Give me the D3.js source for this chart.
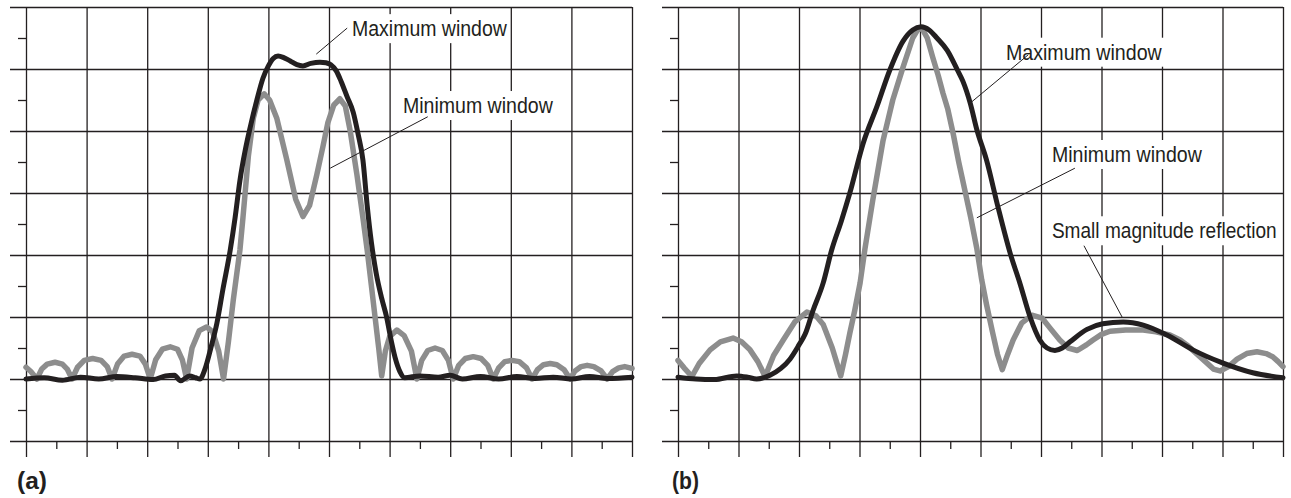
<!DOCTYPE html>
<html>
<head>
<meta charset="utf-8">
<script src="https://cdn.jsdelivr.net/npm/d3@7"></script>
<style>
  html, body { margin: 0; padding: 0; background: #ffffff; }
  svg { display: block; }
  text { font-family: "Liberation Sans Narrow", "Arial Narrow", "Liberation Sans", Arial, sans-serif; fill: #231f20; }
</style>
</head>
<body>
<svg id="chart" width="1291" height="498"></svg>
<script>
// ---------- data ----------
const panelLabels = ["(a)", "(b)"];
const xGridValues = [0, 1, 2, 3, 4, 5, 6, 7, 8, 9, 10];
const xMinorValues = [0.5, 1.5, 2.5, 3.5, 4.5, 5.5, 6.5, 7.5, 8.5, 9.5];
const yGridValues = [-1, 0, 1, 2, 3, 4, 5, 6];
const yMinorValues = [-0.5, 0.5, 1.5, 2.5, 3.5, 4.5, 5.5];

// Panel (a) – Maximum window (black)
const aMaxWindow = [
  [0, 0.0], [0.3, 0.02], [0.6, -0.02], [0.9, 0.03], [1.2, 0.0], [1.5, 0.04], [1.8, 0.02],
  [2.1, -0.01], [2.3, 0.05], [2.45, 0.06], [2.55, -0.03], [2.7, 0.05], [2.8, 0.02], [2.87, 0.0],
  [2.95, 0.15], [3.05, 0.5], [3.15, 0.9], [3.25, 1.45], [3.37, 2.08], [3.45, 2.6], [3.53, 3.2],
  [3.62, 3.7], [3.7, 4.06], [3.81, 4.5], [3.91, 4.85], [4.0, 5.05], [4.08, 5.17], [4.16, 5.21],
  [4.26, 5.18], [4.36, 5.13], [4.47, 5.07], [4.57, 5.05], [4.7, 5.09], [4.85, 5.11], [4.95, 5.1],
  [5.03, 5.07], [5.12, 4.97], [5.2, 4.8], [5.3, 4.55], [5.4, 4.3], [5.48, 3.95], [5.56, 3.53],
  [5.63, 2.8], [5.7, 2.2], [5.78, 1.7], [5.87, 1.3], [5.95, 1.0], [6.02, 0.65], [6.09, 0.35],
  [6.17, 0.12], [6.25, 0.02], [6.5, 0.05], [6.8, 0.03], [7.0, 0.06], [7.2, 0.0], [7.5, 0.04],
  [7.8, 0.0], [8.1, 0.04], [8.4, 0.01], [8.7, 0.03], [9.0, 0.0], [9.3, 0.04], [9.6, 0.01], [10, 0.03]
];

// Panel (a) – Minimum window (gray)
const aMinWindow = [
  [0, 0.19], [0.08, 0.12], [0.18, 0.0], [0.26, 0.16], [0.35, 0.24], [0.48, 0.27], [0.6, 0.24],
  [0.68, 0.16], [0.76, 0.0], [0.85, 0.19], [0.96, 0.3], [1.1, 0.33], [1.24, 0.3], [1.34, 0.2],
  [1.42, 0.0], [1.51, 0.24], [1.62, 0.37], [1.75, 0.4], [1.88, 0.37], [1.97, 0.24], [2.05, 0.0],
  [2.14, 0.31], [2.25, 0.48], [2.38, 0.52], [2.5, 0.48], [2.58, 0.31], [2.65, 0.0], [2.74, 0.5],
  [2.86, 0.78], [2.98, 0.84], [3.08, 0.76], [3.18, 0.45], [3.26, 0.0], [3.34, 0.6], [3.42, 1.27],
  [3.53, 2.08], [3.58, 2.6], [3.67, 3.6], [3.75, 4.2], [3.83, 4.5], [3.93, 4.6], [4.02, 4.5],
  [4.14, 4.2], [4.3, 3.55], [4.45, 2.9], [4.57, 2.62], [4.68, 2.8], [4.8, 3.3], [4.9, 3.75],
  [4.98, 4.13], [5.08, 4.42], [5.18, 4.52], [5.27, 4.4], [5.35, 4.0], [5.46, 3.3], [5.56, 2.6],
  [5.63, 2.08], [5.7, 1.5], [5.76, 1.0], [5.82, 0.5], [5.87, 0.05], [5.93, 0.45], [6.0, 0.68],
  [6.12, 0.79], [6.24, 0.7], [6.36, 0.45], [6.45, 0.0], [6.53, 0.3], [6.63, 0.46], [6.75, 0.5],
  [6.87, 0.46], [6.97, 0.3], [7.05, 0.0], [7.14, 0.22], [7.25, 0.33], [7.38, 0.36], [7.51, 0.33],
  [7.62, 0.22], [7.71, 0.0], [7.8, 0.18], [7.9, 0.28], [8.02, 0.3], [8.14, 0.28], [8.26, 0.18],
  [8.35, 0.0], [8.44, 0.15], [8.54, 0.23], [8.65, 0.25], [8.76, 0.23], [8.88, 0.15], [8.98, 0.0],
  [9.06, 0.13], [9.16, 0.2], [9.26, 0.22], [9.37, 0.2], [9.49, 0.13], [9.59, 0.0], [9.68, 0.12],
  [9.78, 0.18], [9.88, 0.2], [10, 0.17]
];

// Panel (b) – Maximum window (black)
const bMaxWindow = [
  [0, 0.03], [0.3, 0.0], [0.6, -0.01], [0.97, 0.05], [1.15, 0.03], [1.3, 0.0], [1.52, 0.06],
  [1.7, 0.17], [1.85, 0.32], [2.0, 0.55], [2.1, 0.72], [2.23, 1.1], [2.4, 1.55], [2.54, 2.08],
  [2.7, 2.55], [2.84, 3.0], [3.06, 3.8], [3.29, 4.4], [3.5, 4.98], [3.72, 5.45], [3.88, 5.63],
  [4.02, 5.68], [4.15, 5.63], [4.28, 5.5], [4.45, 5.3], [4.62, 4.98], [4.71, 4.8], [4.83, 4.45],
  [4.94, 4.02], [5.1, 3.53], [5.29, 2.77], [5.49, 2.03], [5.65, 1.55], [5.82, 1.0], [5.98, 0.63],
  [6.1, 0.5], [6.23, 0.46], [6.35, 0.5], [6.48, 0.6], [6.76, 0.8], [7.02, 0.89], [7.36, 0.92],
  [7.69, 0.87], [8.08, 0.71], [8.51, 0.47], [9.0, 0.26], [9.5, 0.1], [10, 0.02]
];

// Panel (b) – Minimum window (gray)
const bMinWindow = [
  [0, 0.3], [0.1, 0.18], [0.23, 0.04], [0.35, 0.25], [0.53, 0.47], [0.7, 0.6], [0.91, 0.66],
  [1.05, 0.6], [1.19, 0.47], [1.32, 0.28], [1.44, 0.04], [1.58, 0.38], [1.74, 0.63], [1.93, 0.92],
  [2.13, 1.08], [2.28, 1.02], [2.4, 0.88], [2.55, 0.5], [2.69, 0.05], [2.77, 0.4], [2.84, 0.74],
  [2.92, 1.1], [3.01, 1.55], [3.09, 2.1], [3.22, 2.89], [3.39, 3.85], [3.55, 4.5], [3.72, 5.03],
  [3.88, 5.5], [3.96, 5.63], [4.03, 5.66], [4.12, 5.5], [4.21, 5.19], [4.3, 4.9], [4.38, 4.61],
  [4.46, 4.35], [4.55, 3.95], [4.64, 3.5], [4.74, 3.05], [4.84, 2.6], [4.94, 2.1], [5.02, 1.6],
  [5.1, 1.2], [5.2, 0.75], [5.28, 0.4], [5.36, 0.15], [5.45, 0.4], [5.54, 0.63], [5.68, 0.9],
  [5.85, 1.03], [6.02, 0.98], [6.15, 0.82], [6.31, 0.63], [6.45, 0.5], [6.6, 0.46], [6.75, 0.55],
  [6.86, 0.63], [7.0, 0.72], [7.14, 0.77], [7.4, 0.79], [7.69, 0.79], [7.9, 0.76], [8.13, 0.71],
  [8.3, 0.63], [8.41, 0.55], [8.58, 0.4], [8.74, 0.26], [8.85, 0.16], [8.96, 0.13], [9.1, 0.2],
  [9.24, 0.32], [9.4, 0.41], [9.57, 0.44], [9.72, 0.41], [9.83, 0.36], [9.92, 0.28], [10, 0.2]
];

// Annotation texts
const notesA = ["Maximum window", "Minimum window"];
const notesB = ["Maximum window", "Minimum window", "Small magnitude reflection"];

// ---------- layout (positions in data coordinates) ----------
const layoutA = [
  { tx: 5.38, ty: 5.53, w: 155, from: [4.79, 5.24], to: [5.30, 5.66] },
  { tx: 6.22, ty: 4.29, w: 150, from: [5.02, 3.40], to: [6.63, 4.23] }
];
const layoutB = [
  { tx: 5.42, ty: 5.15, w: 156, from: [4.83, 4.45], to: [5.79, 5.23] },
  { tx: 6.18, ty: 3.50, w: 150, from: [4.94, 2.60], to: [6.56, 3.40] },
  { tx: 6.18, ty: 2.27, w: 225, from: [7.34, 1.00], to: [6.71, 2.15] }
];

const ink = "#231f20";
const grayInk = "#8d8d8d";
const yTop = 7, yBot = 441;

const panels = [
  { label: panelLabels[0], x0: 26, x1: 632, gridLeft: 10, labelX: 17, labelW: 30,
    minS: aMinWindow, maxS: aMaxWindow, notes: notesA, layout: layoutA },
  { label: panelLabels[1], x0: 678, x1: 1283, gridLeft: 662, labelX: 672, labelW: 27,
    minS: bMinWindow, maxS: bMaxWindow, notes: notesB, layout: layoutB }
];

const svg = d3.select("#chart");

function styleAxis(sel) {
  sel.select(".domain").remove();
  sel.selectAll("text").remove();
  sel.selectAll("line").attr("stroke", ink).attr("stroke-width", 1.3);
}

// place a text so that its rendered width equals w (horizontal scale, real glyph text)
function fitText(parent, str, px, py, w, size, weight) {
  const t = parent.append("text")
    .attr("x", 0).attr("y", 0)
    .attr("font-size", size)
    .attr("font-weight", weight || "normal")
    .text(str);
  const natural = t.node().getComputedTextLength();
  const sx = Math.min(1.15, w / natural);
  t.attr("transform", `translate(${px},${py}) scale(${sx},1)`);
  return { node: t, width: natural * sx };
}

panels.forEach(p => {
  const x = d3.scaleLinear().domain([0, 10]).range([p.x0, p.x1]);
  const y = d3.scaleLinear().domain([-1, 6]).range([yBot, yTop]);
  const g = svg.append("g");

  // horizontal gridlines (extend left past the axis)
  g.append("g").attr("transform", `translate(${p.x1},0)`)
    .call(d3.axisRight(y).tickValues(yGridValues).tickSize(-(p.x1 - p.gridLeft)).tickFormat(""))
    .call(styleAxis);

  // vertical gridlines
  g.append("g").attr("transform", `translate(0,${yBot})`)
    .call(d3.axisBottom(x).tickValues(xGridValues).tickSize(-(yBot - yTop)).tickFormat(""))
    .call(styleAxis);

  // major ticks below the bottom line
  g.append("g").attr("transform", `translate(0,${yBot})`)
    .call(d3.axisBottom(x).tickValues(xGridValues).tickSize(16).tickFormat(""))
    .call(styleAxis);

  // minor x ticks
  g.append("g").attr("transform", `translate(0,${yBot})`)
    .call(d3.axisBottom(x).tickValues(xMinorValues).tickSize(8).tickFormat(""))
    .call(styleAxis);

  // minor y ticks
  g.append("g").attr("transform", `translate(${p.x0},0)`)
    .call(d3.axisLeft(y).tickValues(yMinorValues).tickSize(8).tickFormat(""))
    .call(styleAxis);

  // curves
  const lineLinear = d3.line().x(d => x(d[0])).y(d => y(d[1])).curve(d3.curveLinear);
  const lineSmooth = d3.line().x(d => x(d[0])).y(d => y(d[1])).curve(d3.curveMonotoneX);

  g.append("path").datum(p.minS)
    .attr("d", lineLinear)
    .attr("fill", "none").attr("stroke", grayInk).attr("stroke-width", 5.5)
    .attr("stroke-linejoin", "round").attr("stroke-linecap", "round");

  g.append("path").datum(p.maxS)
    .attr("d", lineSmooth)
    .attr("fill", "none").attr("stroke", ink).attr("stroke-width", 5)
    .attr("stroke-linejoin", "round").attr("stroke-linecap", "round");

  // annotations
  p.notes.forEach((txt, i) => {
    const L = p.layout[i];
    const ng = g.append("g");
    const rect = ng.append("rect").attr("fill", "#ffffff");
    const px = x(L.tx), py = y(L.ty);
    const ft = fitText(ng, txt, px, py, L.w, 22);
    rect.attr("x", px - 3).attr("y", py - 22)
      .attr("width", ft.width + 6).attr("height", 29);
    ng.append("line")
      .attr("x1", x(L.from[0])).attr("y1", y(L.from[1]))
      .attr("x2", x(L.to[0])).attr("y2", y(L.to[1]))
      .attr("stroke", ink).attr("stroke-width", 1);
  });

  // panel label
  fitText(g, p.label, p.labelX, 489, p.labelW, 24, "bold");
});
</script>
</body>
</html>
